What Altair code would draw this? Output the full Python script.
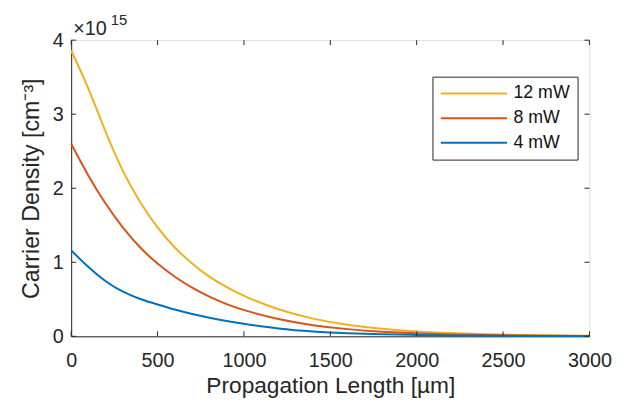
import altair as alt
import pandas as pd

# Propagation length (µm)
x_um = [0, 100, 200, 300, 400, 500, 600, 700, 800, 900, 1000, 1200, 1400,
        1600, 1800, 2000, 2200, 2400, 2600, 2800, 3000]
# Carrier density, in units of 1e15 cm^-3
n_12mW = [3.86, 3.36, 2.75, 2.21, 1.80, 1.46, 1.19, 0.98, 0.80, 0.66, 0.54, 0.355,
          0.232, 0.152, 0.099, 0.065, 0.042, 0.028, 0.018, 0.012, 0.008]
n_8mW = [2.60, 2.16, 1.78, 1.46, 1.19, 0.976, 0.80, 0.654, 0.533, 0.432, 0.350, 0.226,
         0.145, 0.094, 0.060, 0.039, 0.025, 0.016, 0.010, 0.0065, 0.004]
n_4mW = [1.16, 0.93, 0.735, 0.595, 0.50, 0.43, 0.36, 0.30, 0.25, 0.205, 0.168, 0.10,
         0.062, 0.040, 0.027, 0.018, 0.012, 0.008, 0.0055, 0.0036, 0.0024]
series = ["12 mW", "8 mW", "4 mW"]
colors = ["#EDB120", "#D95319", "#0072BD"]
x_ticks = [0, 500, 1000, 1500, 2000, 2500, 3000]
y_ticks = [0, 1, 2, 3, 4]

rows = []
for name, vals in zip(series, [n_12mW, n_8mW, n_4mW]):
    for xv, yv in zip(x_um, vals):
        rows.append({"x": xv, "y": yv, "s": name})
df = pd.DataFrame(rows)

W, H = 525, 300
FONT = "Liberation Sans"
TXT = "#262626"
xscale = alt.Scale(domain=[0, 3000], nice=False, zero=False)
yscale = alt.Scale(domain=[0, 4], nice=False, zero=False)

x_axis = alt.Axis(values=x_ticks, ticks=False, tickSize=0, grid=False,
                  labelFontSize=20, titleFontSize=23, labelPadding=15,
                  labelFlush=False, titlePadding=4, domainColor=TXT,
                  labelColor=TXT, titleColor=TXT, format="d", labelFont=FONT,
                  titleFont=FONT, titleFontWeight="normal")
y_axis = alt.Axis(values=y_ticks, ticks=False, tickSize=0, grid=False,
                  labelFontSize=20, titleFontSize=23.5, labelPadding=8,
                  labelFlush=False, titlePadding=9, domainColor=TXT,
                  labelColor=TXT, titleColor=TXT, format="d", labelFont=FONT,
                  titleFont=FONT, titleFontWeight="normal")
X_TITLE = "Propagation Length [µm]"
Y_TITLE = "Carrier Density [cm⁻³]"

lines = alt.Chart(df).mark_line(strokeWidth=2, interpolate="basis").encode(
    x=alt.X("x:Q", scale=xscale, title=X_TITLE, axis=x_axis),
    y=alt.Y("y:Q", scale=yscale, title=Y_TITLE, axis=y_axis),
    color=alt.Color("s:N", scale=alt.Scale(domain=series, range=colors),
                    sort=series,
                    legend=alt.Legend(title=None, orient="none", legendX=366,
                                      legendY=37, symbolType="stroke",
                                      symbolSize=4500, symbolStrokeWidth=2,
                                      clipHeight=20, rowPadding=5,
                                      labelFontSize=18, labelFont=FONT,
                                      labelColor="#111", labelOffset=5,
                                      padding=7, strokeColor=TXT,
                                      fillColor="white")),
)

xt = pd.DataFrame({"x": x_ticks})
yt = pd.DataFrame({"y": y_ticks})
tick_x_bottom = alt.Chart(xt).mark_rule(color=TXT, strokeWidth=1).encode(
    x=alt.X("x:Q", scale=xscale, title=X_TITLE, axis=x_axis),
    y=alt.value(H), y2=alt.value(H - 5))
tick_x_top = alt.Chart(xt).mark_rule(color=TXT, strokeWidth=1).encode(
    x=alt.X("x:Q", scale=xscale, title=X_TITLE, axis=x_axis),
    y=alt.value(0), y2=alt.value(5))
tick_y_left = alt.Chart(yt).mark_rule(color=TXT, strokeWidth=1).encode(
    y=alt.Y("y:Q", scale=yscale, title=Y_TITLE, axis=y_axis),
    x=alt.value(0), x2=alt.value(5))
tick_y_right = alt.Chart(yt).mark_rule(color=TXT, strokeWidth=1).encode(
    y=alt.Y("y:Q", scale=yscale, title=Y_TITLE, axis=y_axis),
    x=alt.value(W), x2=alt.value(W - 5))

exp_base = alt.Chart(pd.DataFrame({"t": ["×10"]})).mark_text(
    font=FONT, fontSize=20, color=TXT, align="left", baseline="alphabetic"
).encode(text="t:N", x=alt.value(2), y=alt.value(-5))
exp_pow = alt.Chart(pd.DataFrame({"t": ["15"]})).mark_text(
    font=FONT, fontSize=15, color=TXT, align="left", baseline="alphabetic"
).encode(text="t:N", x=alt.value(40), y=alt.value(-15))

chart = alt.layer(
    lines, tick_x_bottom, tick_x_top, tick_y_left, tick_y_right, exp_base, exp_pow
).properties(
    width=W, height=H,
    padding={"left": 64, "top": 30, "right": 33, "bottom": 67},
    autosize=alt.AutoSizeParams(type="none"),
).configure_view(
    stroke=TXT, strokeWidth=1
).configure(background="white")

chart.save("out.html", embed_options={"renderer": "svg", "actions": False})
